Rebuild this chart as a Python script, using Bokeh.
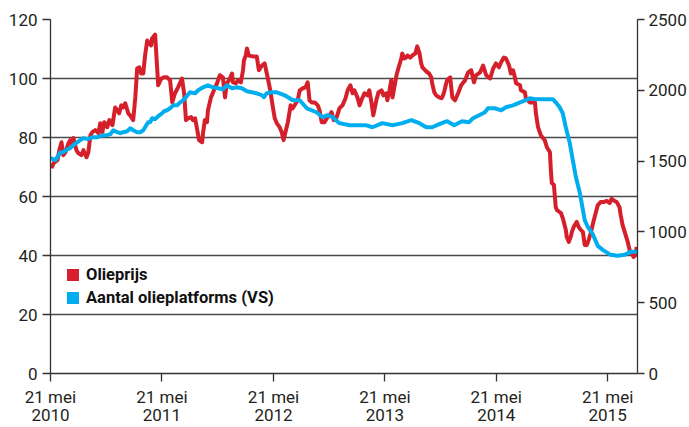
from bokeh.plotting import figure
from bokeh.models import Range1d, LinearAxis, FixedTicker, Legend, LegendItem, ColumnDataSource
from bokeh.embed import file_html
from bokeh.resources import INLINE

# x values: days since 21 mei 2010
oil_day = [3,10,23,29,36,42,49,59,65,72,75,85,91,101,108,118,124,131,137,147,157,163,170,176,186,193,203,212,219,225,
           232,238,245,255,261,271,278,284,291,297,304,310,317,323,330,333,343,350,353,363,372,382,392,399,408,418,431,438,444,451,
           461,467,474,480,487,497,500,506,513,516,526,533,539,546,555,565,572,578,585,595,598,608,614,624,631,634,640,644,650,663,
           676,683,693,702,709,719,729,735,742,751,758,764,774,778,787,794,804,810,817,827,836,843,849,856,866,876,882,889,898,908,
           915,921,928,938,947,957,967,974,983,990,996,1006,1013,1019,1029,1039,1045,1052,1058,1068,1075,1085,1091,1101,1104,1111,1117,1121,1127,1134,
           1140,1150,1153,1160,1166,1170,1179,1186,1196,1202,1209,1215,1219,1228,1235,1241,1248,1251,1258,1264,1274,1281,1284,1290,1297,1300,1310,1317,1326,1336,
           1346,1359,1369,1379,1388,1395,1408,1418,1428,1441,1451,1460,1470,1477,1486,1493,1503,1509,1516,1522,1526,1539,1542,1555,1558,1571,1581,1588,1591,1598,
           1607,1620,1627,1637,1640,1643,1650,1656,1660,1673,1679,1689,1692,1699,1705,1709,1715,1725,1731,1738,1745,1751,1758,1764,1771,1777,1787,1794,1803,1813,
           1823,1833,1839,1849,1856,1865,1869,1875,1885,1892,1898,1905,1911,1918,1921]
oil_price = [69.6,71.3,72.3,75.7,78.4,74.0,75.0,78.1,79.1,77.4,79.8,75.7,74.7,74.0,75.7,73.3,75.0,80.8,81.8,82.5,81.5,84.8,81.8,85.2,83.5,85.9,84.2,90.2,89.2,88.2,
             90.9,90.2,91.6,88.2,87.5,85.9,93.6,103.4,103.8,101.7,101.7,107.8,112.9,111.9,111.2,113.6,114.9,102.8,97.7,100.0,100.4,100.4,99.4,91.9,95.0,97.0,100.0,95.0,85.9,86.5,
             86.9,85.9,86.5,83.1,79.1,78.4,81.5,85.9,85.2,89.2,93.6,95.3,97.0,98.4,101.1,100.4,93.6,98.4,99.4,101.7,98.7,98.4,99.4,98.7,102.8,106.1,107.8,110.2,107.8,107.5,
             107.5,102.8,104.4,105.1,101.7,96.7,90.2,86.5,84.8,83.5,81.8,79.1,83.5,85.2,90.9,89.9,91.6,92.6,96.0,96.7,97.0,98.7,92.6,91.9,91.9,90.9,89.2,85.2,85.2,86.9,
             87.5,88.6,85.9,86.9,89.9,90.9,93.3,96.0,97.7,95.0,96.0,93.6,90.9,92.6,95.0,94.3,96.0,91.9,87.5,92.6,95.3,96.0,94.3,95.0,92.6,96.0,99.4,93.6,97.0,101.1,
             103.4,106.8,108.5,106.8,107.1,107.8,107.1,107.8,108.5,110.9,108.8,105.1,103.8,102.8,102.1,101.7,100.4,98.4,95.3,94.3,93.6,93.3,93.6,95.3,98.4,99.4,100.4,93.6,92.6,95.0,
             97.7,99.4,102.1,102.8,98.7,101.1,102.1,104.4,101.1,100.0,103.4,105.1,103.8,105.5,107.1,106.8,104.4,101.7,102.8,100.4,98.4,97.7,96.0,95.3,93.3,91.9,91.9,91.9,88.2,83.5,
             80.8,79.1,76.7,75.0,69.0,64.6,63.9,56.4,55.4,54.4,52.7,48.7,46.3,44.6,46.3,48.0,49.7,51.4,49.7,48.7,48.0,43.6,43.6,45.3,47.7,50.4,54.4,57.1,58.1,58.1,
             58.5,57.8,59.2,58.5,58.1,56.4,53.7,50.4,47.0,44.6,41.9,40.9,39.5,40.2,42.9]

rig_day = [0,16,33,42,56,65,75,88,98,108,121,131,140,154,163,173,186,196,206,219,229,238,252,261,271,284,294,304,310,320,
           327,333,343,353,366,372,382,392,402,415,425,435,441,457,474,484,500,516,533,549,565,578,595,611,627,644,660,676,693,699,
           709,725,742,768,794,817,840,872,892,908,925,947,980,1013,1036,1055,1088,1121,1153,1183,1209,1232,1251,1274,1300,1323,1349,1372,1385,1405,
           1424,1434,1457,1477,1493,1516,1539,1558,1571,1588,1607,1630,1647,1656,1669,1679,1689,1702,1712,1722,1735,1745,1751,1761,1777,1794,1810,1836,1859,1882,
           1901,1924]
rig_count = [1521,1507,1563,1563,1584,1592,1613,1634,1648,1662,1655,1662,1669,1669,1676,1683,1683,1690,1718,1704,1697,1704,1711,1732,1718,1704,1704,1718,1739,1775,
             1775,1803,1796,1817,1838,1852,1859,1873,1894,1894,1915,1930,1944,1986,1979,2000,2021,2035,2021,2014,2007,2035,2014,2021,2014,1993,1986,1979,1965,1951,
             1979,1986,1986,1965,1930,1930,1873,1845,1810,1824,1810,1768,1753,1753,1753,1739,1768,1753,1768,1789,1768,1739,1739,1761,1782,1753,1782,1775,1803,1824,
             1845,1873,1873,1859,1880,1894,1915,1930,1944,1937,1937,1937,1937,1915,1880,1838,1739,1627,1507,1387,1275,1155,1084,1035,986,901,873,838,831,838,
             859,859]

x_ticks = [0, 365, 731, 1096, 1461, 1826]
x_tick_labels = ["21 mei\n2010", "21 mei\n2011", "21 mei\n2012", "21 mei\n2013", "21 mei\n2014", "21 mei\n2015"]
price_ticks = [0, 20, 40, 60, 80, 100, 120]
rig_ticks = [0, 500, 1000, 1500, 2000, 2500]
series_labels = ["Olieprijs", "Aantal olieplatforms (VS)"]

RED = "#d5202c"
BLUE = "#00aeef"
AXIS = "#333333"
FONT = "Roboto"

p = figure(width=689, height=427,
           x_range=Range1d(0, 1924), y_range=Range1d(0, 120),
           output_backend="svg", toolbar_location=None,
           min_border_left=50, min_border_right=50, min_border_top=19, min_border_bottom=53)
p.extra_y_ranges = {"rigs": Range1d(0, 2500)}
p.outline_line_color = None
p.xgrid.visible = False
p.ygrid.ticker = FixedTicker(ticks=price_ticks)
p.ygrid.grid_line_color = "#4a4a4a"
p.ygrid.grid_line_width = 1.3

p.xaxis.ticker = FixedTicker(ticks=x_ticks)
p.xaxis.major_label_overrides = {t: l for t, l in zip(x_ticks, x_tick_labels)}
p.yaxis.ticker = FixedTicker(ticks=price_ticks)

right = LinearAxis(y_range_name="rigs", ticker=FixedTicker(ticks=rig_ticks))
p.add_layout(right, "right")

for ax in [p.xaxis[0], p.yaxis[0], right]:
    ax.axis_line_color = AXIS
    ax.axis_line_width = 1.3
    ax.major_tick_line_color = AXIS
    ax.major_tick_line_width = 1.3
    ax.major_tick_in = 0
    ax.major_tick_out = 8
    ax.minor_tick_line_color = None
    ax.major_label_text_font = FONT
    ax.major_label_text_font_size = "17px"
    ax.major_label_text_color = "#231f20"
    ax.major_label_standoff = 5
p.xaxis.major_label_standoff = 5
p.xaxis.major_label_text_line_height = 0.9
right.major_tick_out = 7
right.major_label_standoff = 4

src_oil = ColumnDataSource(dict(x=oil_day, y=oil_price))
src_rig = ColumnDataSource(dict(x=rig_day, y=rig_count))
p.line("x", "y", source=src_oil, line_color=RED, line_width=4, line_join="round")
p.line("x", "y", source=src_rig, line_color=BLUE, line_width=4, line_join="round", y_range_name="rigs")

# legend swatches only (NaN data: nothing is drawn in the plot area)
nan = float("nan")
leg_oil = p.quad(left=[nan], right=[nan], top=[nan], bottom=[nan], fill_color=RED, line_color=None)
leg_rig = p.quad(left=[nan], right=[nan], top=[nan], bottom=[nan], fill_color=BLUE, line_color=None)

legend = Legend(items=[LegendItem(label=series_labels[0], renderers=[leg_oil]),
                       LegendItem(label=series_labels[1], renderers=[leg_rig])],
                location=(15, 66), orientation="vertical",
                glyph_width=15, glyph_height=15, label_height=15, spacing=4,
                padding=0, margin=0, border_line_color=None, background_fill_alpha=0,
                label_text_font=FONT, label_text_font_style="bold", label_text_font_size="16.5px",
                label_standoff=6, label_text_color="#111111")
p.add_layout(legend)

open("out.html", "w").write(file_html(p, INLINE))
